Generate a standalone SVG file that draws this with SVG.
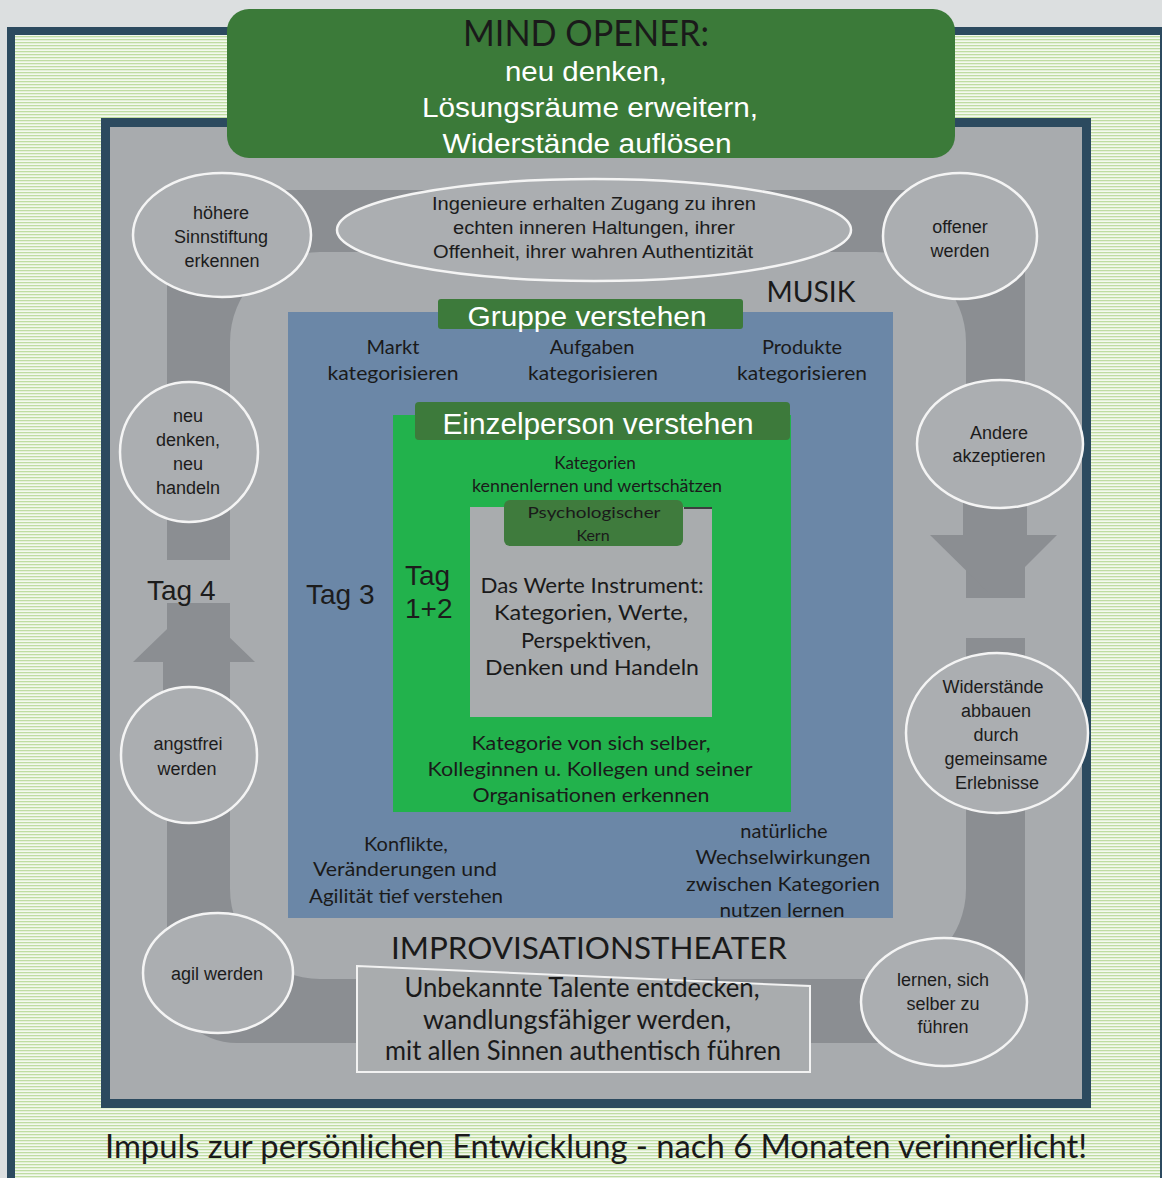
<svg xmlns="http://www.w3.org/2000/svg" width="1162" height="1178" viewBox="0 0 1162 1178">
<defs>
<pattern id="stripes" patternUnits="userSpaceOnUse" width="8" height="3">
<rect width="8" height="3" fill="#f3f9ee"/>
<rect width="8" height="1.3" fill="#bfdca2"/>
</pattern>
<style>
.h{font-family:"Liberation Sans",Arial,sans-serif;fill:#1c1c1c;text-anchor:middle}
.f{font-family:Lato,"Liberation Sans",sans-serif;fill:#1a1a1a;text-anchor:middle}
.w{fill:#ffffff}
.bub{fill:#abaeb1;stroke:#f4f4f4;stroke-width:2.5}
.trk{fill:#8b8e92}
.dg{fill:#3d7a3b}
</style>
</defs>

<rect x="0" y="0" width="1162" height="1178" fill="#dcdfe0"/>
<rect x="11" y="31" width="1153" height="1170" fill="url(#stripes)" stroke="#2c4a5f" stroke-width="8"/>
<rect x="105.5" y="122.5" width="981" height="981" fill="#a8abae" stroke="#2c4a5f" stroke-width="9"/>

<g id="connectors">
<path class="trk" fill-rule="evenodd" d="M237,190 H955 A70,70 0 0 1 1025,260 V973 A70,70 0 0 1 955,1043 H237 A70,70 0 0 1 167,973 V260 A70,70 0 0 1 237,190 Z M320,252 H876 A90,90 0 0 1 966,342 V889 A90,90 0 0 1 876,979 H320 A90,90 0 0 1 230,889 V342 A90,90 0 0 1 320,252 Z"/>
<rect x="158" y="560" width="80" height="43" fill="#a8abae"/>
<rect x="958" y="598" width="75" height="40" fill="#a8abae"/>
<rect class="trk" x="163" y="640" width="62" height="60"/>
<polygon class="trk" points="133,662 255,662 194,603"/>
<rect class="trk" x="963" y="500" width="64" height="40"/>
<polygon class="trk" points="930,535 1057,535 994,598"/>
</g>

<g id="mind-opener">
<rect x="227" y="9" width="728" height="149" rx="22" fill="#3b7a39"/>
<text class="f" x="586" y="46" font-size="36" textLength="246" lengthAdjust="spacingAndGlyphs">MIND OPENER:</text>
<text class="h w" x="586" y="81" font-size="27" textLength="162" lengthAdjust="spacingAndGlyphs">neu denken,</text>
<text class="h w" x="590" y="117" font-size="27" textLength="336" lengthAdjust="spacingAndGlyphs">Lösungsräume erweitern,</text>
<text class="h w" x="587" y="153" font-size="27" textLength="289" lengthAdjust="spacingAndGlyphs">Widerstände auflösen</text>
</g>

<g id="node-hoehere">
<ellipse class="bub" cx="222" cy="235" rx="89" ry="62"/>
<text class="h" x="221" y="219" font-size="18">höhere</text>
<text class="h" x="221" y="243" font-size="18">Sinnstiftung</text>
<text class="h" x="222" y="267" font-size="18">erkennen</text>
</g>

<g id="node-ingenieure">
<ellipse class="bub" cx="594" cy="230" rx="257" ry="51"/>
<text class="h" x="594" y="210" font-size="18" textLength="324" lengthAdjust="spacingAndGlyphs">Ingenieure erhalten Zugang zu ihren</text>
<text class="h" x="594" y="234" font-size="18" textLength="282" lengthAdjust="spacingAndGlyphs">echten inneren Haltungen, ihrer</text>
<text class="h" x="593" y="258" font-size="18" textLength="320" lengthAdjust="spacingAndGlyphs">Offenheit, ihrer wahren Authentizität</text>
</g>

<g id="node-offener">
<ellipse class="bub" cx="960" cy="236" rx="77" ry="63"/>
<text class="h" x="960" y="233" font-size="18">offener</text>
<text class="h" x="960" y="257" font-size="18">werden</text>
</g>

<g id="node-neu-denken">
<ellipse class="bub" cx="189" cy="452" rx="69" ry="70"/>
<text class="h" x="188" y="422" font-size="18">neu</text>
<text class="h" x="188" y="446" font-size="18">denken,</text>
<text class="h" x="188" y="470" font-size="18">neu</text>
<text class="h" x="188" y="494" font-size="18">handeln</text>
</g>

<g id="node-andere">
<ellipse class="bub" cx="1000" cy="444" rx="83" ry="64"/>
<text class="h" x="999" y="439" font-size="18">Andere</text>
<text class="h" x="999" y="462" font-size="18">akzeptieren</text>
</g>

<g id="label-tag4">
<text class="h" x="147" y="600" font-size="28" style="text-anchor:start">Tag 4</text>
</g>

<g id="node-angstfrei">
<ellipse class="bub" cx="189" cy="755" rx="68" ry="68"/>
<text class="h" x="188" y="750" font-size="18">angstfrei</text>
<text class="h" x="187" y="775" font-size="18">werden</text>
</g>

<g id="node-widerstaende">
<ellipse class="bub" cx="997" cy="733" rx="91" ry="80"/>
<text class="h" x="993" y="693" font-size="18">Widerstände</text>
<text class="h" x="996" y="717" font-size="18">abbauen</text>
<text class="h" x="996" y="741" font-size="18">durch</text>
<text class="h" x="996" y="765" font-size="18">gemeinsame</text>
<text class="h" x="997" y="789" font-size="18">Erlebnisse</text>
</g>

<g id="node-agil">
<ellipse class="bub" cx="218" cy="973" rx="75" ry="60"/>
<text class="h" x="217" y="980" font-size="18">agil werden</text>
</g>

<g id="node-lernen">
<ellipse class="bub" cx="944" cy="1002" rx="83" ry="64"/>
<text class="h" x="943" y="986" font-size="18">lernen, sich</text>
<text class="h" x="943" y="1010" font-size="18">selber zu</text>
<text class="h" x="943" y="1033" font-size="18">führen</text>
</g>

<g id="label-musik">
<text class="f" x="811" y="302" font-size="29" textLength="89" lengthAdjust="spacingAndGlyphs">MUSIK</text>
</g>

<g id="gruppe">
<rect x="288" y="312" width="605" height="606" fill="#6b87a7"/>
<rect x="438" y="299" width="305" height="30" rx="3" class="dg"/>
<text class="h w" x="587" y="326" font-size="28" textLength="239" lengthAdjust="spacingAndGlyphs">Gruppe verstehen</text>
<text class="f" x="393" y="354" font-size="20">Markt</text>
<text class="f" x="393" y="380" font-size="20" textLength="131" lengthAdjust="spacingAndGlyphs">kategorisieren</text>
<text class="f" x="592" y="354" font-size="20">Aufgaben</text>
<text class="f" x="593" y="380" font-size="20" textLength="130" lengthAdjust="spacingAndGlyphs">kategorisieren</text>
<text class="f" x="802" y="354" font-size="20">Produkte</text>
<text class="f" x="802" y="380" font-size="20" textLength="130" lengthAdjust="spacingAndGlyphs">kategorisieren</text>
<text class="h" x="306" y="604" font-size="28" style="text-anchor:start">Tag 3</text>
<text class="f" x="406" y="851" font-size="20">Konflikte,</text>
<text class="f" x="405" y="876" font-size="20" textLength="184" lengthAdjust="spacingAndGlyphs">Veränderungen und</text>
<text class="f" x="406" y="903" font-size="20" textLength="194" lengthAdjust="spacingAndGlyphs">Agilität tief verstehen</text>
<text class="f" x="784" y="838" font-size="20">natürliche</text>
<text class="f" x="783" y="864" font-size="20" textLength="175" lengthAdjust="spacingAndGlyphs">Wechselwirkungen</text>
<text class="f" x="783" y="891" font-size="20" textLength="194" lengthAdjust="spacingAndGlyphs">zwischen Kategorien</text>
<text class="f" x="782" y="917" font-size="20" textLength="125" lengthAdjust="spacingAndGlyphs">nutzen lernen</text>
</g>

<g id="einzelperson">
<rect x="393" y="415" width="398" height="397" fill="#22b24c"/>
<rect x="415" y="402" width="375" height="38" rx="4" class="dg"/>
<text class="h w" x="598" y="434" font-size="30" textLength="311" lengthAdjust="spacingAndGlyphs">Einzelperson verstehen</text>
<text class="f" x="595" y="469" font-size="17">Kategorien</text>
<text class="f" x="597" y="492" font-size="17" textLength="250" lengthAdjust="spacingAndGlyphs">kennenlernen und wertschätzen</text>
<text class="h" x="405" y="585" font-size="28" style="text-anchor:start">Tag</text>
<text class="h" x="405" y="618" font-size="28" style="text-anchor:start">1+2</text>
<text class="f" x="591" y="750" font-size="20" textLength="239" lengthAdjust="spacingAndGlyphs">Kategorie von sich selber,</text>
<text class="f" x="590" y="776" font-size="20" textLength="325" lengthAdjust="spacingAndGlyphs">Kolleginnen u. Kollegen und seiner</text>
<text class="f" x="591" y="802" font-size="20" textLength="237" lengthAdjust="spacingAndGlyphs">Organisationen erkennen</text>
</g>

<g id="kern">
<rect x="470" y="507" width="242" height="210" fill="#a9acae"/>
<line x1="684" y1="508" x2="712" y2="508" stroke="#1a1a1a" stroke-width="1.5"/>
<rect x="504" y="500" width="179" height="46" rx="6" fill="#3f7b3d"/>
<text class="f" x="594" y="518" font-size="16" textLength="133" lengthAdjust="spacingAndGlyphs">Psychologischer</text>
<text class="f" x="593" y="541" font-size="16">Kern</text>
<text class="f" x="592" y="593" font-size="22" textLength="223" lengthAdjust="spacingAndGlyphs">Das Werte Instrument:</text>
<text class="f" x="591" y="620" font-size="22" textLength="194" lengthAdjust="spacingAndGlyphs">Kategorien, Werte,</text>
<text class="f" x="586" y="648" font-size="22" textLength="130" lengthAdjust="spacingAndGlyphs">Perspektiven,</text>
<text class="f" x="592" y="675" font-size="22" textLength="214" lengthAdjust="spacingAndGlyphs">Denken und Handeln</text>
</g>

<g id="improvisation">
<text class="f" x="589" y="959" font-size="30" textLength="396" lengthAdjust="spacingAndGlyphs">IMPROVISATIONSTHEATER</text>
<polygon points="357,966 810,986 810,1072 357,1072" fill="#a9acae" stroke="#f2f2f2" stroke-width="2"/>
<text class="f" x="582" y="997" font-size="26" textLength="355" lengthAdjust="spacingAndGlyphs">Unbekannte Talente entdecken,</text>
<text class="f" x="577" y="1029" font-size="26" textLength="308" lengthAdjust="spacingAndGlyphs">wandlungsfähiger werden,</text>
<text class="f" x="583" y="1060" font-size="26" textLength="396" lengthAdjust="spacingAndGlyphs">mit allen Sinnen authentisch führen</text>
</g>

<g id="footer">
<text class="f" x="596" y="1158" font-size="33" textLength="982" lengthAdjust="spacingAndGlyphs">Impuls zur persönlichen Entwicklung - nach 6 Monaten verinnerlicht!</text>
</g>
</svg>
